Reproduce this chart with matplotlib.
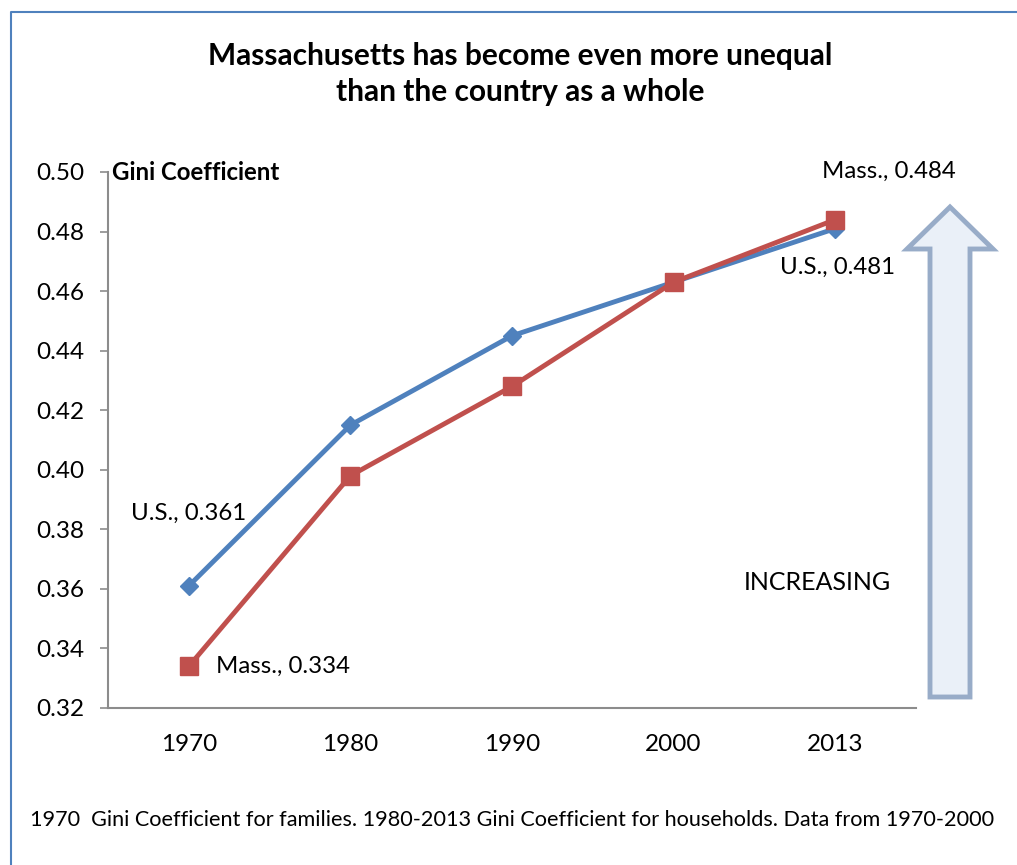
import matplotlib.pyplot as plt
from matplotlib.patches import Polygon
from matplotlib.lines import Line2D

plt.rcParams['font.family'] = ['Lato', 'DejaVu Sans']

years = ['1970', '1980', '1990', '2000', '2013']
us_gini = [0.361, 0.415, 0.445, 0.463, 0.481]
mass_gini = [0.334, 0.398, 0.428, 0.463, 0.484]
y_ticks = [0.32, 0.34, 0.36, 0.38, 0.40, 0.42, 0.44, 0.46, 0.48, 0.50]

W, H = 1017, 865
fig = plt.figure(figsize=(W / 100, H / 100), dpi=100)
ax = fig.add_axes([108 / W, 1 - 708 / H, (916 - 108) / W, (708 - 172) / H])

x = list(range(len(years)))
ax.plot(x, us_gini, color='#4f81bd', lw=3.5, marker='D', ms=9.5, zorder=3)
ax.plot(x, mass_gini, color='#c0504d', lw=3.5, marker='s', ms=12.5, zorder=4)

ax.set_xlim(-0.5, len(years) - 0.5)
ax.set_ylim(0.32, 0.50)
ax.set_xticks(x)
ax.set_xticklabels(years, fontsize=17.5)
ax.set_yticks(y_ticks)
ax.set_yticklabels([f'{v:.2f}' for v in y_ticks], fontsize=17.5)
ax.tick_params(axis='x', length=0, pad=19)
ax.tick_params(axis='y', length=6, width=1.2, color='#8c8c8c', pad=11)
for side in ['top', 'right']:
    ax.spines[side].set_visible(False)
for side in ['left', 'bottom']:
    ax.spines[side].set_color('#8c8c8c')
    ax.spines[side].set_linewidth(1.5)

# data labels
lab = dict(fontsize=17.3, textcoords='offset pixels', va='center')
ax.annotate(f'U.S., {us_gini[0]:.3f}', (0, us_gini[0]), xytext=(0, 73), ha='center', **lab)
ax.annotate(f'Mass., {mass_gini[0]:.3f}', (0, mass_gini[0]), xytext=(27, 0), ha='left', **lab)
ax.annotate(f'U.S., {us_gini[-1]:.3f}', (4, us_gini[-1]), xytext=(2, -39), ha='center', **lab)
ax.annotate(f'Mass., {mass_gini[-1]:.3f}', (4, mass_gini[-1]), xytext=(54, 48), ha='center', **lab)

ax.text(0.005, 1.0, 'Gini Coefficient', transform=ax.transAxes, fontsize=17.3,
        fontweight='bold', ha='left', va='center')

fig.text(520 / W, 1 - 74 / H, 'Massachusetts has become even more unequal\nthan the country as a whole',
         ha='center', va='center', fontsize=21.5, fontweight='bold', linespacing=1.32)

# big arrow
pts = [(930, 697), (970, 697), (970, 249), (993, 249), (950, 207), (907, 249), (930, 249)]
arrow = Polygon([(px / W, 1 - py / H) for px, py in pts], closed=True,
                transform=fig.transFigure, facecolor='#eaf0f8', edgecolor='#98acc8', lw=3.5)
fig.patches.append(arrow)
fig.text(817 / W, 1 - 583 / H, 'INCREASING', ha='center', va='center', fontsize=18)

fig.text(30 / W, 1 - 820 / H,
         '1970  Gini Coefficient for families. 1980-2013 Gini Coefficient for households. Data from 1970-2000',
         ha='left', va='center', fontsize=15.6)

# frame border (left and top only visible)
fig.lines.append(Line2D([11 / W, 11 / W, 1.0], [0.0, 1 - 12 / H, 1 - 12 / H],
                        transform=fig.transFigure, color='#4f81bd', lw=1.5))

fig.savefig('out.png', dpi=100)
